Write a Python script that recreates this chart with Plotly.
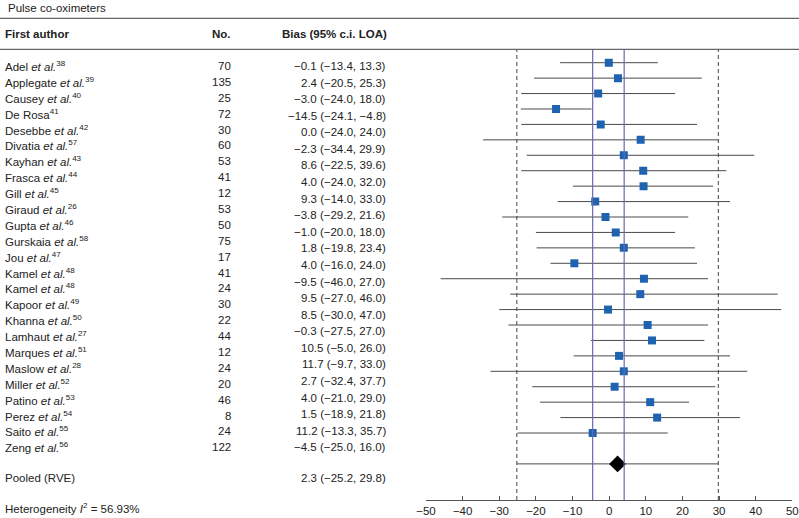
import plotly.graph_objects as go

# table columns (as printed)
authors = ["Adel", "Applegate", "Causey", "De Rosa", "Desebbe", "Divatia", "Kayhan",
           "Frasca", "Gill", "Giraud", "Gupta", "Gurskaia", "Jou", "Kamel", "Kamel",
           "Kapoor", "Khanna", "Lamhaut", "Marques", "Maslow", "Miller", "Patino",
           "Perez", "Saito", "Zeng"]
has_etal = [True, True, True, False] + [True] * 21
refs = [38, 39, 40, 41, 42, 57, 43, 44, 45, 26, 46, 58, 47, 48, 48, 49, 50, 27,
        51, 28, 52, 53, 54, 55, 56]
n_obs = [70, 135, 25, 72, 30, 60, 53, 41, 12, 53, 50, 75, 17, 41, 24, 30, 22, 44,
         12, 24, 20, 46, 8, 24, 122]

# bias column has 24 entries
bias = [-0.1, 2.4, -3.0, -14.5, 0.0, -2.3, 8.6, 4.0, 9.3, -3.8, -1.0, 1.8, 4.0,
        -9.5, 9.5, 8.5, -0.3, 10.5, 11.7, 2.7, 4.0, 1.5, 11.2, -4.5]
bias_lo = [-13.4, -20.5, -24.0, -24.1, -24.0, -34.4, -22.5, -24.0, -14.0, -29.2,
           -20.0, -19.8, -16.0, -46.0, -27.0, -30.0, -27.5, -5.0, -9.7, -32.4,
           -21.0, -18.9, -13.3, -25.0]
bias_hi = [13.3, 25.3, 18.0, -4.8, 24.0, 29.9, 39.6, 32.0, 33.0, 21.6, 18.0, 23.4,
           24.0, 27.0, 46.0, 47.0, 27.0, 26.0, 33.0, 37.7, 29.0, 21.8, 35.7, 16.0]

pooled, pooled_lo, pooled_hi = 2.3, -25.2, 29.8
i2 = 56.93

# forest plot values (as drawn)
plot_est = [-0.1, 2.4, -3.0, -14.5, -2.3, 8.6, 4.0, 9.3, 9.4, -3.8, -1.0, 1.8, 4.0,
            -9.5, 9.5, 8.5, -0.3, 10.5, 11.7, 2.7, 4.0, 1.5, 11.2, 13.1, -4.5]
plot_lo = [-13.4, -20.5, -24.0, -24.1, -24.0, -34.4, -22.5, -24.0, -9.9, -14.0,
           -29.2, -20.0, -19.8, -16.0, -46.0, -27.0, -30.0, -27.5, -5.0, -9.7,
           -32.4, -21.0, -18.9, -13.3, -25.0]
plot_hi = [13.3, 25.3, 18.0, -4.8, 24.0, 29.9, 39.6, 32.0, 28.4, 33.0, 21.6, 18.0,
           23.4, 24.0, 27.0, 46.0, 47.0, 27.0, 26.0, 33.0, 37.7, 29.0, 21.8, 35.7, 16.0]
ci_band = [-4.5, 4.1]

x_ticks = [-50, -40, -30, -20, -10, 0, 10, 20, 30, 40, 50]

W, H = 799, 518
FONT = "Liberation Sans, Arial, Helvetica, sans-serif"
FS = 11.5


def fmt(v):
    return f"{v:.1f}".replace("-", "\u2212")


def px(x):
    return x / W


def py(y):
    return 1 - y / H


rows = list(range(1, len(plot_est) + 1))
pooled_row = len(plot_est) + 2

fig = go.Figure()
fig.add_trace(go.Scatter(
    x=plot_est, y=rows, mode="markers",
    marker=dict(symbol="square", size=8, color="#1f63b0"),
    error_x=dict(type="data", symmetric=False,
                 array=[h - e for h, e in zip(plot_hi, plot_est)],
                 arrayminus=[e - l for e, l in zip(plot_est, plot_lo)],
                 width=0, thickness=1, color="#4a4a4a"),
    showlegend=False))
fig.add_trace(go.Scatter(
    x=[pooled], y=[pooled_row], mode="markers",
    marker=dict(symbol="diamond", size=13, color="black"),
    error_x=dict(type="data", symmetric=False,
                 array=[pooled_hi - pooled], arrayminus=[pooled - pooled_lo],
                 width=0, thickness=1, color="#4a4a4a"),
    showlegend=False))

shapes = []
for v in [pooled_lo, pooled_hi]:
    shapes.append(dict(type="line", xref="x", yref="y domain", x0=v, x1=v, y0=0, y1=1,
                       line=dict(color="#444444", width=1, dash="4px,3px")))
for v in ci_band:
    shapes.append(dict(type="line", xref="x", yref="y domain", x0=v, x1=v, y0=0, y1=1,
                       line=dict(color="#6a6aae", width=1.2)))
for y in [18.3, 49.3]:
    shapes.append(dict(type="line", xref="paper", yref="paper", x0=0, x1=1,
                       y0=py(y), y1=py(y), line=dict(color="#666666", width=1.3)))

ann = []


def text(x, y, s, anchor="left", bold=False):
    if bold:
        s = f"<b>{s}</b>"
    ann.append(dict(x=px(x), y=py(y), xref="paper", yref="paper", text=s,
                    showarrow=False, xanchor=anchor, yanchor="middle",
                    font=dict(family=FONT, size=FS, color="#222222")))


text(6, 8, "Pulse co-oximeters")
text(3, 33.7, "First author", bold=True)
text(233, 33.7, "No.", anchor="right", bold=True)
text(389, 33.7, "Bias (95% c.i. LOA)", anchor="right", bold=True)

top, bottom = 66, 447.3
step_n = (bottom - top) / (len(authors) - 1)
for i, (a, e, r, n) in enumerate(zip(authors, has_etal, refs, n_obs)):
    y = top + i * step_n
    lab = a + (" <i>et al.</i>" if e else "") + f"<sup>{r}</sup>"
    text(3, y, lab)
    text(233, y, str(n), anchor="right")

step_b = (bottom - top) / (len(bias) - 1)
for i, (b, lo, hi) in enumerate(zip(bias, bias_lo, bias_hi)):
    text(388, top + i * step_b, f"{fmt(b)} ({fmt(lo)}, {fmt(hi)})", anchor="right")

text(3, 478.3, "Pooled (RVE)")
text(388, 478.3, f"{fmt(pooled)} ({fmt(pooled_lo)}, {fmt(pooled_hi)})", anchor="right")
text(3, 508.3, f"Heterogeneity <i>I</i><sup>2</sup> = {i2:.2f}%")

# pixel layout of the forest panel
row1_px, row_step = 62.7, 15.43
top_px, axis_px = 50, 500
y_top = 1 + (top_px - row1_px) / row_step
y_bot = 1 + (axis_px - row1_px) / row_step

fig.update_layout(
    width=W, height=H,
    margin=dict(l=0, r=0, t=0, b=0),
    paper_bgcolor="white", plot_bgcolor="white",
    font=dict(family=FONT, size=FS, color="#222222"),
    xaxis=dict(domain=[426 / W, 792.3 / W], range=[-50, 50], showgrid=False,
               zeroline=False, showline=True, linecolor="#555555", linewidth=1,
               ticks="inside", ticklen=4, tickcolor="#555555",
               tickvals=x_ticks, ticktext=[str(t).replace("-", "\u2212") for t in x_ticks],
               tickfont=dict(family=FONT, size=FS, color="#222222"), automargin=False),
    yaxis=dict(domain=[1 - axis_px / H, 1 - top_px / H], range=[y_bot, y_top],
               visible=False, showgrid=False, zeroline=False, automargin=False),
    shapes=shapes, annotations=ann,
)

# the page's default body margin would push the figure off its 799x518 frame
fig.write_html("out.html", config={"displayModeBar": False},
               post_script="document.body.style.margin='0';")
